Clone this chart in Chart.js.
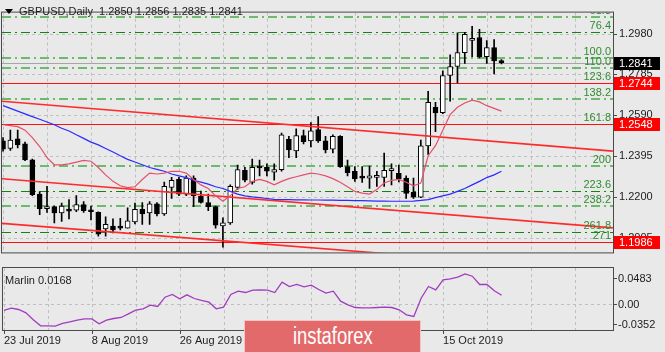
<!DOCTYPE html>
<html><head><meta charset="utf-8"><title>GBPUSD Daily</title>
<script src="https://cdn.jsdelivr.net/npm/chart.js@4.4.1/dist/chart.umd.min.js"></script>
<style>
html,body{margin:0;padding:0;background:#e9e9e9;}
body{width:665px;height:352px;position:relative;overflow:hidden;}
canvas{position:absolute;left:0;}
#main{top:0;}
#sub{top:266px;}
#wm{position:absolute;left:244px;top:320px;width:177px;height:32px;background:#e36a6a;border:1px solid #f4c4c4;border-bottom:none;box-sizing:border-box;display:flex;align-items:center;justify-content:center;}
#wm span{color:#fff;font-family:"Liberation Sans",Arial,sans-serif;font-size:23px;transform:scaleX(0.8);display:inline-block;}
</style></head><body>
<canvas id="main" width="665" height="265"></canvas>
<canvas id="sub" width="665" height="86"></canvas>
<div id="wm"><span>instaforex</span></div>
<script>
// ---------------- DATA ----------------
const symbol = 'GBPUSD,Daily';
const lastOHLC = ['1.2850', '1.2856', '1.2835', '1.2841'];

const opens  = [1.2468,1.2432,1.2478,1.2454,1.2378,1.2214,1.2145,1.2154,1.2124,1.2139,1.2137,1.2164,1.2139,1.2127,1.2048,1.2062,1.2058,1.2052,1.2081,1.2142,1.2124,1.2168,1.2120,1.2246,1.2284,1.2214,1.2290,1.2203,1.2174,1.2154,1.2062,1.2077,1.2246,1.2328,1.2270,1.2348,1.2342,1.2319,1.2331,1.2475,1.2420,1.2493,1.2468,1.2522,1.2468,1.2429,1.2490,1.2345,1.2323,1.2297,1.2290,1.2294,1.2294,1.2326,1.2313,1.2290,1.2222,1.2200,1.2444,1.2628,1.2603,1.2780,1.2823,1.2889,1.2947,1.2961,1.2870,1.2913,1.2850];
const highs  = [1.2484,1.2519,1.2519,1.2462,1.2381,1.2226,1.2251,1.2157,1.2171,1.2188,1.2207,1.2178,1.2157,1.2130,1.2106,1.2096,1.2098,1.2149,1.2171,1.2174,1.2178,1.2174,1.2272,1.2294,1.2294,1.2301,1.2301,1.2229,1.2214,1.2157,1.2101,1.2258,1.2352,1.2342,1.2381,1.2377,1.2359,1.2359,1.2505,1.2490,1.2526,1.2519,1.2555,1.2584,1.2490,1.2497,1.2493,1.2377,1.2345,1.2345,1.2348,1.2323,1.2410,1.2359,1.2352,1.2301,1.2290,1.2472,1.2705,1.2652,1.2802,1.2879,1.2983,1.2986,1.3015,1.3000,1.2947,1.2951,1.2856];
const lows   = [1.2419,1.2423,1.2435,1.2374,1.2207,1.2116,1.2127,1.2077,1.2084,1.2096,1.2130,1.2127,1.2091,1.2014,1.2014,1.2029,1.2043,1.2052,1.2072,1.2070,1.2070,1.2110,1.2113,1.2193,1.2207,1.2207,1.2154,1.2171,1.2135,1.2052,1.1961,1.2070,1.2236,1.2272,1.2261,1.2301,1.2301,1.2280,1.2323,1.2388,1.2388,1.2454,1.2439,1.2461,1.2410,1.2410,1.2342,1.2301,1.2275,1.2270,1.2241,1.2251,1.2251,1.2258,1.2272,1.2193,1.2193,1.2197,1.2403,1.2512,1.2598,1.2657,1.2744,1.2838,1.2870,1.2864,1.2838,1.2787,1.2835];
const closes = [1.2429,1.2472,1.2449,1.2377,1.2211,1.2145,1.2154,1.2124,1.2157,1.2133,1.2164,1.2135,1.2130,1.2023,1.2070,1.2043,1.2052,1.2087,1.2142,1.2120,1.2168,1.2120,1.2251,1.2280,1.2214,1.2290,1.2207,1.2174,1.2154,1.2066,1.2077,1.2251,1.2331,1.2280,1.2342,1.2339,1.2323,1.2331,1.2497,1.2425,1.2493,1.2464,1.2516,1.2468,1.2425,1.2490,1.2345,1.2316,1.2287,1.2290,1.2301,1.2301,1.2328,1.2335,1.2287,1.2217,1.2200,1.2444,1.2652,1.2602,1.2780,1.2823,1.2889,1.2976,1.2957,1.2870,1.2913,1.2850,1.2841];

const maFast = [1.2545,1.2541,1.2536,1.2519,1.2484,1.2441,1.2388,1.2354,1.2354,1.2358,1.2367,1.2375,1.2371,1.2341,1.2306,1.2275,1.2254,1.2245,1.2249,1.2284,1.2314,1.2310,1.2314,1.2323,1.2323,1.2314,1.2284,1.2258,1.2241,1.2206,1.2180,1.2206,1.2241,1.2249,1.2275,1.2284,1.2275,1.2258,1.2275,1.2288,1.2297,1.2306,1.2314,1.2310,1.2301,1.2288,1.2271,1.2249,1.2227,1.2219,1.2214,1.2236,1.2267,1.2280,1.2284,1.2271,1.2254,1.2267,1.2397,1.2445,1.2519,1.2593,1.2628,1.2649,1.2662,1.2654,1.2636,1.2623,1.2610];
const maSlow = [1.2636,1.2623,1.2610,1.2597,1.2584,1.2571,1.2558,1.2545,1.2528,1.2515,1.2497,1.2480,1.2462,1.2449,1.2432,1.2415,1.2397,1.2380,1.2367,1.2354,1.2341,1.2332,1.2323,1.2310,1.2301,1.2293,1.2280,1.2271,1.2262,1.2249,1.2241,1.2227,1.2214,1.2206,1.2201,1.2197,1.2193,1.2189,1.2188,1.2188,1.2187,1.2187,1.2186,1.2186,1.2185,1.2185,1.2184,1.2184,1.2183,1.2183,1.2182,1.2181,1.2181,1.2180,1.2180,1.2180,1.2181,1.2184,1.2188,1.2197,1.2206,1.2214,1.2227,1.2241,1.2258,1.2275,1.2293,1.2306,1.2323];

const marlin = [-0.0109,-0.0067,-0.0091,-0.0152,-0.0279,-0.0388,-0.0388,-0.0394,-0.0345,-0.0315,-0.0285,-0.0261,-0.0261,-0.0352,-0.0285,-0.0255,-0.0236,-0.0170,-0.0103,-0.0079,-0.0012,-0.0036,0.0133,0.0182,0.0103,0.0176,0.0109,0.0073,0.0042,-0.0079,-0.0048,0.0182,0.0242,0.0218,0.0261,0.0267,0.0261,0.0218,0.0406,0.0327,0.0364,0.0321,0.0352,0.0273,0.0206,0.0242,0.0061,-0.0006,-0.0055,-0.0061,-0.0061,-0.0055,-0.0048,-0.0055,-0.0097,-0.0188,-0.0218,0.0115,0.0327,0.0267,0.0448,0.0467,0.0497,0.0558,0.0515,0.0364,0.0364,0.0250,0.0168];
const marlinName = 'Marlin';
const marlinLast = '0.0168';

const priceTicks = [1.2980, 1.2785, 1.2590, 1.2395, 1.2200, 1.2005];
const fibLabels = ['61.8','76.4','100.0','110.0','123.6','138.2','161.8','200','223.6','238.2','261.8','271'];
const fibPrices = [1.3059,1.2986,1.2864,1.2814,1.2742,1.2668,1.2549,1.2349,1.2228,1.2156,1.2032,1.1984];
const hLines = [1.2744, 1.2548, 1.1986];
const currentPrice = 1.2841;
const trendX = [-0.41, 83.2];
const trendStartY = [1.2658, 1.2288, 1.2075];
const trendEndY   = [1.2419, 1.2053, 1.1845];

const dateTickIdx = [0, 12, 24, 60];
const dateTickLabels = ['23 Jul 2019', '8 Aug 2019', '26 Aug 2019', '15 Oct 2019'];
const marlinTicks = [0.0483, 0, -0.0352];
const marlinTickLabels = ['0.0483', '0.00', '-0.0352'];

// ---------------- STYLE ----------------
const FONT = '"Liberation Sans", Arial, sans-serif';
const BG = '#e9e9e9', GRID = '#bfbfbf', FRAME = '#4a4a4a', TXT = '#1c1c1c';
const XMIN = -0.14, XMAX = 83.22;
const gridIdx = Array.from({length: 14}, (_, k) => k * 6);
const fibLight = new Set(['61.8','100.0','110.0','138.2','200','238.2']);
Chart.defaults.font.family = FONT;
Chart.defaults.font.size = 11;

function hline(ctx, x0, x1, y) { ctx.beginPath(); ctx.moveTo(x0, y); ctx.lineTo(x1, y); ctx.stroke(); }
function vline(ctx, x, y0, y1) { ctx.beginPath(); ctx.moveTo(x, y0); ctx.lineTo(x, y1); ctx.stroke(); }
function clipArea(ctx, a) { ctx.beginPath(); ctx.rect(a.left, a.top, a.right - a.left, a.bottom - a.top); ctx.clip(); }
function drawGrid(ctx, a, xs, ys, xVals, yVals) {
  ctx.strokeStyle = GRID; ctx.lineWidth = 1; ctx.setLineDash([3, 3]);
  xVals.forEach(v => vline(ctx, Math.round(xs.getPixelForValue(v)) + 0.5, a.top, a.bottom));
  yVals.forEach(v => hline(ctx, a.left, a.right, Math.round(ys.getPixelForValue(v)) + 0.5));
  ctx.setLineDash([]);
}

const bgPlugin = { id: 'bgp', beforeDraw(c) { const x = c.ctx; x.save(); x.fillStyle = BG; x.fillRect(0, 0, c.width, c.height); x.restore(); } };

const mainOverlay = {
  id: 'mo',
  beforeDatasetsDraw(c) {
    const {ctx, chartArea: a, scales: {x, y}} = c;
    ctx.save(); clipArea(ctx, a);
    drawGrid(ctx, a, x, y, gridIdx, priceTicks);
    ctx.strokeStyle = '#a6a6a6'; ctx.lineWidth = 1;
    hline(ctx, a.left, a.right, Math.round(y.getPixelForValue(currentPrice)) + 0.5);
    fibPrices.forEach((p, k) => {
      const light = fibLight.has(fibLabels[k]);
      const py = Math.round(y.getPixelForValue(p));
      ctx.strokeStyle = light ? '#6cbb6c' : '#10860f';
      ctx.lineWidth = light ? 2 : 1;
      ctx.setLineDash([9, 4, 2, 4]);
      hline(ctx, a.left, a.right, light ? py : py + 0.5);
    });
    ctx.setLineDash([]);
    ctx.strokeStyle = '#ff1010'; ctx.lineWidth = 1;
    hLines.forEach(p => hline(ctx, a.left, a.right, Math.round(y.getPixelForValue(p)) + 0.5));
    ctx.restore();
  },
  afterDatasetsDraw(c) {
    const {ctx, chartArea: a, scales: {y}} = c;
    ctx.save(); clipArea(ctx, a);
    ctx.font = '11px ' + FONT; ctx.fillStyle = '#2e8c2e'; ctx.textAlign = 'right'; ctx.textBaseline = 'alphabetic';
    fibPrices.forEach((p, k) => ctx.fillText(fibLabels[k], a.right - 2, Math.round(y.getPixelForValue(p)) - 3));
    ctx.restore();
  },
  afterDraw(c) {
    const {ctx, chartArea: a, scales: {y}} = c;
    ctx.save();
    ctx.strokeStyle = FRAME; ctx.lineWidth = 1;
    ctx.strokeRect(a.left - 0.5, a.top - 0.5, a.right - a.left + 1, a.bottom - a.top + 1);
    priceTicks.forEach(p => hline(ctx, a.right, a.right + 4, Math.round(y.getPixelForValue(p)) + 0.5));
    ctx.font = '11px ' + FONT;
    const box = (p, bg) => {
      const py = Math.round(y.getPixelForValue(p));
      ctx.fillStyle = bg; ctx.fillRect(a.right + 1, py - 6, 46, 13);
      ctx.fillStyle = '#ffffff'; ctx.textAlign = 'left'; ctx.textBaseline = 'middle';
      ctx.fillText(p.toFixed(4), a.right + 6, py + 1);
    };
    box(currentPrice, '#000000');
    hLines.forEach(p => box(p, '#ff0000'));
    // title
    ctx.fillStyle = '#000';
    ctx.beginPath(); ctx.moveTo(5, 9); ctx.lineTo(13, 9); ctx.lineTo(9, 14); ctx.closePath(); ctx.fill();
    ctx.fillStyle = TXT; ctx.textAlign = 'left'; ctx.textBaseline = 'middle';
    ctx.fillText(symbol + '  ' + lastOHLC.join(' '), 19, 12);
    ctx.restore();
  }
};

const subOverlay = {
  id: 'so',
  beforeDatasetsDraw(c) {
    const {ctx, chartArea: a, scales: {x, y}} = c;
    ctx.save(); clipArea(ctx, a);
    drawGrid(ctx, a, x, y, gridIdx, [0]);
    ctx.restore();
  },
  afterDraw(c) {
    const {ctx, chartArea: a, scales: {x, y}} = c;
    ctx.save();
    ctx.strokeStyle = FRAME; ctx.lineWidth = 1;
    ctx.strokeRect(a.left - 0.5, a.top - 0.5, a.right - a.left + 1, a.bottom - a.top + 1);
    ctx.font = '11px ' + FONT; ctx.fillStyle = TXT; ctx.textAlign = 'left'; ctx.textBaseline = 'middle';
    marlinTicks.forEach((v, k) => {
      const py = Math.round(y.getPixelForValue(v)) + 0.5;
      hline(ctx, a.right, a.right + 4, py);
      ctx.fillText(marlinTickLabels[k], a.right + 5, py + 0.5);
    });
    dateTickIdx.forEach(i => { const px = Math.round(x.getPixelForValue(i)) + 0.5; vline(ctx, px, a.bottom, a.bottom + 4); });
    ctx.fillText(marlinName + ' ' + marlinLast, 5, 15);
    ctx.restore();
  }
};

// ---------------- MAIN CHART ----------------
const pts = arr => arr.map((v, i) => ({x: i, y: v}));
const trendDatasets = trendStartY.map((y0, k) => ({
  type: 'line', label: 'trend' + k,
  data: [{x: trendX[0], y: y0}, {x: trendX[1], y: trendEndY[k]}],
  borderColor: '#ff2a2a', borderWidth: 1.6, pointRadius: 0, order: 0
}));

new Chart(document.getElementById('main'), {
  type: 'bar',
  data: {
    datasets: [
      {type: 'line', label: 'MA fast', data: pts(maFast), borderColor: '#e4506c', borderWidth: 1.2, pointRadius: 0, order: 0},
      {type: 'line', label: 'MA slow', data: pts(maSlow), borderColor: '#2b2bff', borderWidth: 1.2, pointRadius: 0, order: 0},
      ...trendDatasets,
      {label: 'bodies', data: opens.map((o, i) => ({x: i, y: [o, closes[i]]})),
        backgroundColor: opens.map((o, i) => closes[i] >= o ? '#ffffff' : '#000000'),
        borderColor: '#000000', borderWidth: 1, borderSkipped: false, barThickness: 5, minBarLength: 2, grouped: false, order: 1},
      {label: 'wicks', data: lows.map((l, i) => ({x: i, y: [l, highs[i]]})),
        backgroundColor: '#000000', borderWidth: 0, barThickness: 1, grouped: false, order: 2}
    ]
  },
  options: {
    responsive: false, animation: false, events: [],
    layout: {padding: {left: 2, top: 1, right: 0, bottom: 1}},
    plugins: {legend: {display: false}, tooltip: {enabled: false}},
    scales: {
      x: {type: 'linear', min: XMIN, max: XMAX, offset: false,
        ticks: {display: false}, grid: {display: false, drawTicks: false, offset: false},
        border: {display: false}, afterFit(s) { s.height = 0; }},
      y: {position: 'right', min: 1.1936, max: 1.3080,
        afterBuildTicks(s) { s.ticks = priceTicks.map(v => ({value: v})); },
        ticks: {callback: v => Number(v).toFixed(4), color: TXT, padding: 6, autoSkip: false, font: {size: 11}},
        grid: {display: false, drawTicks: false}, border: {display: false},
        afterFit(s) { s.width = 52; }}
    }
  },
  plugins: [bgPlugin, mainOverlay]
});

// ---------------- MARLIN PANEL ----------------
new Chart(document.getElementById('sub'), {
  type: 'line',
  data: {datasets: [{label: 'Marlin', data: pts(marlin), borderColor: '#a23cbf', borderWidth: 1.3, pointRadius: 0}]},
  options: {
    responsive: false, animation: false, events: [],
    layout: {padding: {left: 2, top: 2, right: 0, bottom: 0}},
    plugins: {legend: {display: false}, tooltip: {enabled: false}},
    scales: {
      x: {type: 'linear', min: XMIN, max: XMAX, offset: false,
        afterBuildTicks(s) { s.ticks = dateTickIdx.map(v => ({value: v})); },
        ticks: {callback: v => { const k = dateTickIdx.indexOf(v); return k >= 0 ? dateTickLabels[k] : ''; },
          align: 'start', autoSkip: false, maxRotation: 0, minRotation: 0, color: TXT, padding: 4, font: {size: 11}},
        grid: {display: false, drawTicks: false, offset: false},
        border: {display: false}, afterFit(s) { s.height = 22; }},
      y: {position: 'right', min: -0.0464, max: 0.0664,
        ticks: {display: false},
        grid: {display: false, drawTicks: false},
        border: {display: false}, afterFit(s) { s.width = 52; }}
    }
  },
  plugins: [bgPlugin, subOverlay]
});
</script></body></html>
